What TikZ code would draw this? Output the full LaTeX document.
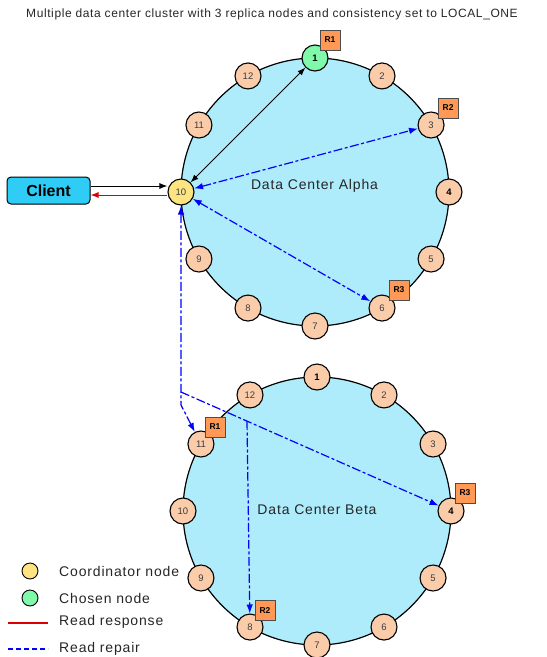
\documentclass[tikz,border=0pt]{standalone}
\usepackage{fontspec}
\setmainfont{Liberation Sans}
\newfontfamily\spacedfont[LetterSpace=5]{Liberation Sans}
\newfontfamily\widefont[LetterSpace=6]{Liberation Sans}
\usetikzlibrary{arrows.meta,calc}
\definecolor{ringfill}{RGB}{174,236,252}
\definecolor{peach}{RGB}{251,204,170}
\definecolor{chosen}{RGB}{128,250,170}
\definecolor{coordc}{RGB}{253,228,128}
\definecolor{rbox}{RGB}{255,153,85}
\definecolor{clientc}{RGB}{47,205,245}
\definecolor{numgray}{RGB}{60,60,60}
\definecolor{repairblue}{RGB}{0,0,255}
\definecolor{respred}{RGB}{220,0,0}
\begin{document}
\begin{tikzpicture}[x=1pt,y=-1pt,
  ring/.style={draw=black,line width=1.2pt,fill=ringfill},
  tok/.style={circle,draw=black,line width=1.1pt,fill=peach,minimum size=26pt,inner sep=0pt,font=\fontsize{9.5}{10}\selectfont,text=numgray},
  tokb/.style={tok,font=\fontsize{9.5}{10}\selectfont\bfseries,text=black},
  tokchosen/.style={tokb,fill=chosen},
  tokcoord/.style={tok,fill=coordc},
  rtag/.style={draw=black!70,line width=0.8pt,fill=rbox,minimum size=20pt,inner sep=0pt,font=\fontsize{8.5}{9}\selectfont\bfseries},
  repair/.style={draw=repairblue,line width=1.2pt,dash pattern=on 9pt off 2.5pt on 3pt off 2.5pt},
  btip/.style={-{Latex[length=9pt,width=6.5pt]}},
  bbtip/.style={{Latex[length=9pt,width=6.5pt]}-{Latex[length=9pt,width=6.5pt]}},
  client/.style={draw=black,line width=1pt,fill=clientc,rounded corners=4pt,minimum width=83pt,minimum height=27pt,inner sep=0pt,font=\fontsize{16}{18}\selectfont\bfseries},
  lbl/.style={font=\widefont\fontsize{14}{16}\selectfont,text=black!85},
  legtxt/.style={font=\widefont\fontsize{14}{16}\selectfont,text=black!85,anchor=west,inner sep=0pt},
  legdot/.style={circle,draw=black,line width=0.9pt,minimum size=16pt,inner sep=0pt}
]
\useasboundingbox (0,0) rectangle (547,657);
\node[font=\spacedfont\fontsize{12}{14}\selectfont,text=black!85] (title) at (272,14) {Multiple data center cluster with 3 replica nodes and consistency set to LOCAL\_ONE};

% rings
\draw[ring] (315,192) circle[radius=134];
\draw[ring] (317,511) circle[radius=134];

\node[lbl] (alpha) at (314.5,186) {Data Center Alpha};
\node[lbl] (beta) at (317,510) {Data Center Beta};

% ring nodes
\foreach \k/\st in {1/tokchosen,2/tok,3/tok,4/tokb,5/tok,6/tok,7/tok,8/tok,9/tok,10/tokcoord,11/tok,12/tok}{
  \pgfmathsetmacro\ang{90-30*(\k-1)}
  \node[\st] (a\k) at ({315+134*cos(\ang)},{192-134*sin(\ang)}) {\k};
}
\foreach \k/\st in {1/tokb,2/tok,3/tok,4/tokb,5/tok,6/tok,7/tok,8/tok,9/tok,10/tok,11/tok,12/tok}{
  \pgfmathsetmacro\ang{90-30*(\k-1)}
  \node[\st] (b\k) at ({317+134*cos(\ang)},{511-134*sin(\ang)}) {\k};
}

% replica tags
\node[rtag] (ra1) at ($(a1)+(15,-18)$) {R1};
\node[rtag] (ra2) at ($(a3)+(17,-17)$) {R2};
\node[rtag] (ra3) at ($(a6)+(17,-18)$) {R3};
\node[rtag] (rb1) at ($(b11)+(14,-17)$) {R1};
\node[rtag] (rb3) at ($(b4)+(14,-18)$) {R3};
\node[rtag] (rb2) at ($(b8)+(15,-17)$) {R2};

% client
\node[client] (client) at (48.5,190.5) {Client};
\draw[black,line width=1pt,-{Latex[length=8pt,width=6pt]}] ([yshift=4.5pt]client.east) -- ([yshift=4.5pt]client.east -| a10.west);
\draw[respred,line width=1pt,-{Latex[length=8pt,width=6pt]}] ([yshift=-4.5pt]client.east -| a10.west) -- ([yshift=-4.5pt]client.east);

% alpha connectors
\draw[black,line width=1pt,{Latex[length=8pt,width=6pt]}-{Latex[length=8pt,width=6pt]}] (a10) -- (a1);
\draw[repair,bbtip] (a10) -- (a3);
\draw[repair,bbtip] (a10) -- (a6);

% inter-DC read repair
\coordinate (s1) at (181,392);
\coordinate (s2) at (181,405);
\coordinate (s3) at (247,421);
\draw[repair,bbtip] (a10) -- (s2) -- (b11);
\draw[repair,btip] (s1) -- (b4);
\draw[repair,btip] (s3) -- (b8);

% legend
\node[legdot,fill=coordc] (lg1) at (30,571) {};
\node[legtxt] (lt1) at (59,571) {Coordinator node};
\node[legdot,fill=chosen] (lg2) at (30,598) {};
\node[legtxt] (lt2) at (59,598) {Chosen node};
\coordinate (lr1) at (8,623);
\coordinate (lr2) at (48,623);
\draw[respred,line width=1.2pt] (lr1) -- (lr2);
\node[legtxt] (lt3) at (59,622) {Read response};
\coordinate (lb1) at (8,649);
\coordinate (lb2) at (48,649);
\draw[repairblue,line width=1.2pt,dash pattern=on 5pt off 3pt] (lb1) -- (lb2);
\node[legtxt] (lt4) at (59,649) {Read repair};
\end{tikzpicture}
\end{document}
